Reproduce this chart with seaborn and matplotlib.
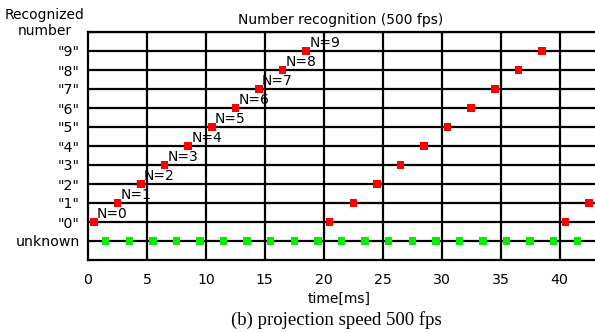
import matplotlib
matplotlib.use("Agg")
import matplotlib.pyplot as plt
import seaborn as sns
import pandas as pd

# Recognized digits (red) over time
red_time = [0.5, 2.5, 4.5, 6.5, 8.5, 10.5, 12.5, 14.5, 16.5, 18.5,
            20.5, 22.5, 24.5, 26.5, 28.5, 30.5, 32.5, 34.5, 36.5, 38.5,
            40.5, 42.5]
red_value = [0, 1, 2, 3, 4, 5, 6, 7, 8, 9,
             0, 1, 2, 3, 4, 5, 6, 7, 8, 9,
             0, 1]
# Unknown frames (green)
green_time = [1.5, 3.5, 5.5, 7.5, 9.5, 11.5, 13.5, 15.5, 17.5, 19.5,
              21.5, 23.5, 25.5, 27.5, 29.5, 31.5, 33.5, 35.5, 37.5, 39.5, 41.5]
green_value = [-1] * 21
# Labels for the first pass
n_labels = ["N=0", "N=1", "N=2", "N=3", "N=4", "N=5", "N=6", "N=7", "N=8", "N=9"]

y_ticks = [-1, 0, 1, 2, 3, 4, 5, 6, 7, 8, 9]
y_labels = ["unknown", '"0"', '"1"', '"2"', '"3"', '"4"', '"5"', '"6"', '"7"', '"8"', '"9"']
x_ticks = [0, 5, 10, 15, 20, 25, 30, 35, 40]

sns.set_style("white")
plt.rcParams['font.family'] = ['DejaVu Sans']
plt.rcParams['text.color'] = 'black'
plt.rcParams['xtick.color'] = 'black'
plt.rcParams['ytick.color'] = 'black'

fig = plt.figure(figsize=(5.95, 3.33), dpi=100)
ax = fig.add_axes([88/595, 1 - 260/333, (595 - 88)/595, (260 - 32)/333])

df_red = pd.DataFrame({"t": red_time, "v": red_value})
df_green = pd.DataFrame({"t": green_time, "v": green_value})

ax.set_xlim(0, 43)
ax.set_ylim(-2, 10)

for y in range(-1, 11):
    ax.axhline(y, color="black", lw=1.6, zorder=1)
for x in x_ticks[1:]:
    ax.axvline(x, color="black", lw=1.6, zorder=1)

sns.scatterplot(data=df_red, x="t", y="v", ax=ax, marker="s", color="#ff0000",
                s=29, edgecolor="none", zorder=3)
sns.scatterplot(data=df_green, x="t", y="v", ax=ax, marker="s", color="#00ee00",
                s=29, edgecolor="none", zorder=3)

for t, v, lab in zip(red_time, red_value, n_labels):
    ax.annotate(lab, (t, v), xytext=(3, 1), textcoords="offset pixels",
                ha="left", va="bottom", fontsize=10, color="black", zorder=4)

ax.set_xticks(x_ticks)
ax.set_xticklabels([str(x) for x in x_ticks], fontsize=10.2)
ax.set_yticks(y_ticks)
ax.set_yticklabels(y_labels, fontsize=10.2)
ax.tick_params(axis="x", length=0, pad=9, colors="black")
ax.tick_params(axis="y", length=0, pad=6, colors="black")
ax.set_xlabel("")
ax.set_ylabel("")

for side in ["left", "bottom", "top"]:
    ax.spines[side].set_visible(True)
    ax.spines[side].set_color("black")
    ax.spines[side].set_linewidth(1.6)
ax.spines["right"].set_visible(False)

fig.text(341/595, 1 - 20/333, "Number recognition (500 fps)", ha="center", va="center", fontsize=10)
fig.text(45/595, 1 - 15/333, "Recognized", ha="center", va="center", fontsize=10)
fig.text(45/595, 1 - 31/333, "number", ha="center", va="center", fontsize=10)
fig.text(339/595, 1 - 299/333, "time[ms]", ha="center", va="center", fontsize=10)
fig.text(336/595, 1 - 320/333, "(b) projection speed 500 fps", ha="center", va="center",
         fontsize=13.5, family="Liberation Serif")

fig.savefig("out.png", dpi=100)
